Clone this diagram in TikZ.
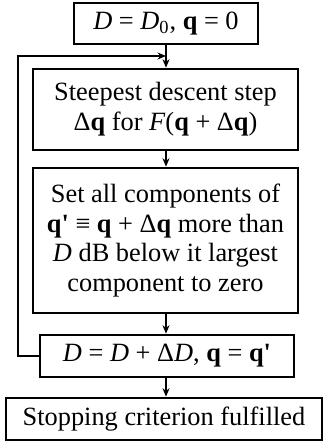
\documentclass[tikz,border=0pt]{standalone}
\usepackage{fontspec}
\setmainfont{Liberation Serif}
\usetikzlibrary{arrows.meta,positioning}
\newcommand{\bq}{\textbf{q}}
\newcommand{\itD}{\textit{D}}
\newcommand{\bqp}{\textbf{q\textquotesingle}}
\tikzset{
  arrow/.style={-{Stealth[length=1.7mm,width=1.4mm]},draw=black,line width=0.6pt},
  flowbox/.style={rectangle,draw=black,line width=1.5pt,fill=white,align=center,
    inner sep=0pt,font=\fontsize{15}{17}\selectfont},
}

\begin{document}
\begin{tikzpicture}[x=1cm,y=1cm]

\useasboundingbox (0,0) rectangle (6.46,-8.88);

\node[flowbox,minimum width=3.68cm,minimum height=0.82cm] (init) at (3.32,-0.47)
  {\itD{} = \itD\textsubscript{0}, \bq{} = 0};

\node[flowbox,minimum width=5.30cm,minimum height=1.62cm] (descent) at (3.31,-2.19)
  {Steepest descent step\\ Δ\bq{} for \textit{F}(\bq{} + Δ\bq)};

\node[flowbox,minimum width=5.30cm,minimum height=2.90cm] (threshold) at (3.31,-4.81)
  {Set all components of\\ \bqp{} ≡ \bq{} + Δ\bq{} more than\\ \itD{} dB below it largest\\ component to zero};

\node[flowbox,minimum width=5.08cm,minimum height=0.84cm] (update) at (3.34,-7.12)
  {\itD{} = \itD{} + Δ\itD, \bq{} = \bqp};

\node[flowbox,minimum width=6.32cm,minimum height=0.84cm] (stop) at (3.28,-8.38)
  {Stopping criterion fulfilled};

% loop back
\coordinate (loopT) at (0.36,-1.12);
\coordinate (join) at (3.32,-1.12);

\draw[arrow] (init.south) -- (descent.north -| init.south);
\draw[arrow] (descent.south -| init.south) -- (threshold.north -| init.south);
\draw[arrow] (threshold.south -| init.south) -- (update.north -| init.south);
\draw[arrow] (update.south -| init.south) -- (stop.north -| init.south);
\draw[arrow] (update.west) -| (loopT) -- (join);

\end{tikzpicture}
\end{document}
